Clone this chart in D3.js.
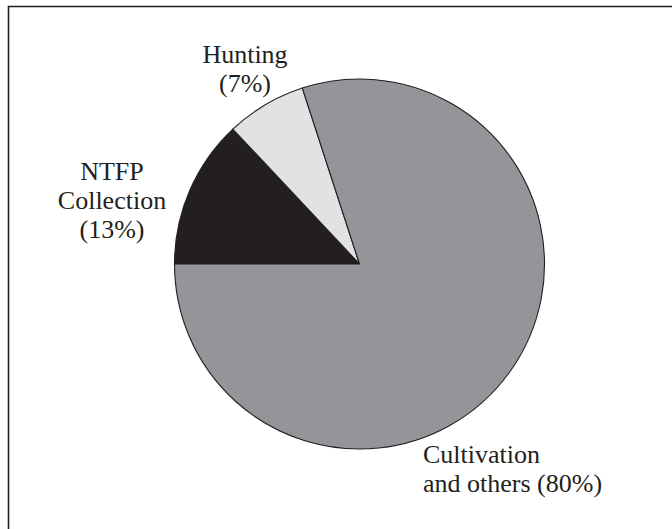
<!DOCTYPE html>
<html><head><meta charset="utf-8">
<script src="https://cdn.jsdelivr.net/npm/d3@7"></script>
<style>html,body{margin:0;padding:0;background:#fff;}svg{display:block;}</style>
</head><body>
<svg id="chart" width="672" height="529"></svg>
<script>
const categories = ["NTFP Collection", "Hunting", "Cultivation and others"];
const values = [13, 7, 80];
const labelLines = [["NTFP", "Collection", "(13%)"], ["Hunting", "(7%)"], ["Cultivation", "and others (80%)"]];
const colors = ["#231f20", "#e1e2e4", "#939598"];

const svg = d3.select("#chart");
const W = 672, H = 529;
const ink = "#231f20";

// frame (top and left edges visible, cropped on right/bottom)
svg.append("path")
  .attr("d", `M8.5,${H} L8.5,6.5 L${W},6.5`)
  .attr("fill", "none").attr("stroke", ink).attr("stroke-width", 1.6);

const cx = 359.5, cy = 264, r = 185;
const pie = d3.pie().sort(null).value(d => d.v)
  .startAngle(-Math.PI / 2).endAngle(Math.PI * 1.5);
const arc = d3.arc().innerRadius(0).outerRadius(r);
const data = categories.map((c, i) => ({c, v: values[i], i}));

const g = svg.append("g").attr("transform", `translate(${cx},${cy})`);
g.selectAll("path").data(pie(data)).join("path")
  .attr("d", arc)
  .attr("fill", d => colors[d.data.i])
  .attr("stroke", ink).attr("stroke-width", 1.1)
  .attr("stroke-linejoin", "miter");

// labels
const labelPos = [
  {x: 112, y: 180, anchor: "middle"},
  {x: 245, y: 63, anchor: "middle"},
  {x: 423, y: 463, anchor: "start"}
];
const lineH = 29;
labelLines.forEach((lines, i) => {
  const p = labelPos[i];
  const t = svg.append("text")
    .attr("x", p.x).attr("y", p.y)
    .attr("text-anchor", p.anchor)
    .attr("font-family", "'Liberation Serif', 'Times New Roman', serif")
    .attr("font-size", 26)
    .attr("fill", ink);
  lines.forEach((ln, j) => {
    t.append("tspan").attr("x", p.x).attr("y", p.y + j * lineH).text(ln);
  });
});
</script>
</body></html>
